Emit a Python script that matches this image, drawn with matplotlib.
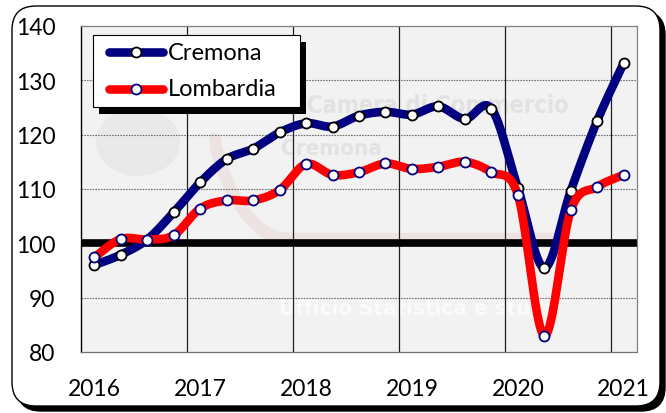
import numpy as np
import matplotlib
matplotlib.use("Agg")
import matplotlib.pyplot as plt
from matplotlib.patches import FancyBboxPatch, Rectangle, Ellipse
from matplotlib.lines import Line2D

# Quarterly index series, 2016 Q1 .. 2021 Q1
quarters = [f"{y} T{q}" for y in range(2016, 2021) for q in range(1, 5)] + ["2021 T1"]
year_labels = ["2016", "2017", "2018", "2019", "2020", "2021"]
cremona = [96.0, 97.9, 100.7, 105.7, 111.2, 115.5, 117.4, 120.4, 122.1, 121.5,
           123.5, 124.2, 123.7, 125.2, 122.9, 124.8, 110.2, 95.5, 109.7, 122.6, 133.2]
lombardia = [97.4, 100.8, 100.7, 101.5, 106.4, 107.9, 107.9, 109.8, 114.6, 112.6,
             113.1, 114.7, 113.7, 114.1, 115.0, 113.1, 108.9, 83.0, 106.1, 110.4, 112.6]
base_value = 100

FONT = ["Lato", "DejaVu Sans"]
plt.rcParams["font.family"] = FONT

W, H = 666, 414
fig = plt.figure(figsize=(W / 100, H / 100), dpi=100)
fig.patch.set_facecolor("white")


def px(x, y):
    """Pixel position (from top-left) to inches for dpi_scale_trans."""
    return x / 100, (H - y) / 100


# Rounded outer frame with a drop shadow
fx0, fy0, fx1, fy1 = 12, 7, 660, 407
r = 0.24
shadow = FancyBboxPatch(px(fx0 + 5, fy1 + 5), (fx1 - fx0) / 100, (fy1 - fy0) / 100,
                        boxstyle=f"round,pad=0,rounding_size={r}",
                        transform=fig.dpi_scale_trans, facecolor="black",
                        edgecolor="black", zorder=0)
frame = FancyBboxPatch(px(fx0, fy1), (fx1 - fx0) / 100, (fy1 - fy0) / 100,
                       boxstyle=f"round,pad=0,rounding_size={r}",
                       transform=fig.dpi_scale_trans, facecolor="white",
                       edgecolor="black", linewidth=1.0, zorder=0.5)
fig.add_artist(shadow)
fig.add_artist(frame)

ax = fig.add_axes([81 / W, 1 - 353 / H, (637 - 81) / W, (353 - 27) / H])
ax.set_facecolor("#F2F2F2")
ax.set_zorder(2)

x = np.arange(len(quarters))


def smooth(xs, ys, n=30):
    """Catmull-Rom style Bezier smoothing through every point."""
    P = np.column_stack([xs, ys]).astype(float)
    Pe = np.vstack([P[0], P, P[-1]])
    out = []
    for i in range(len(P) - 1):
        p0, p1, p2, p3 = Pe[i], Pe[i + 1], Pe[i + 2], Pe[i + 3]
        c1 = p1 + (p2 - p0) / 6
        c2 = p2 - (p3 - p1) / 6
        t = np.linspace(0, 1, n, endpoint=(i == len(P) - 2))[:, None]
        seg = ((1 - t) ** 3) * p1 + 3 * ((1 - t) ** 2) * t * c1 + 3 * (1 - t) * t ** 2 * c2 + t ** 3 * p2
        out.append(seg)
    out = np.vstack(out)
    return out[:, 0], out[:, 1]


# Faint logo watermark behind the data
wm_kw = dict(transform=fig.transFigure, family=["DejaVu Sans"], fontstretch="condensed",
             fontweight="bold", zorder=1)
ax.add_patch(Ellipse((138 / 100, (H - 143) / 100), 0.84, 0.68, transform=fig.dpi_scale_trans,
                     facecolor="#E9E9E9", edgecolor="none", zorder=0.1))
tt = np.linspace(0, 1, 60)
arc_x = 215 + 345 * tt ** 1.4
arc_y = 140 + 100 * np.sin(np.pi / 2 * np.clip(tt * 3, 0, 1))
ax.plot(arc_x / 100, (H - arc_y) / 100, color="#E8C8C8", lw=9, alpha=0.35,
        solid_capstyle="round", transform=fig.dpi_scale_trans, zorder=0.2)
ax.text(307 / W, 1 - 106 / H, "Camera di Commercio", ha="left", va="center",
        fontsize=17, color="#E2E2E2", **wm_kw)
ax.text(281 / W, 1 - 149 / H, "Cremona", ha="left", va="center",
        fontsize=16, color="#E2E2E2", **wm_kw)
ax.text(279 / W, 1 - 309 / H, "Ufficio Statistica e studi", ha="left", va="center",
        fontsize=16, color="#FAFAFA", **wm_kw)

# Reference level
ax.axhline(base_value, color="black", lw=5.5, zorder=2)

sx, sy = smooth(x, cremona)
ax.plot(sx, sy, color="#000080", lw=6.2, solid_capstyle="round", zorder=3)
ax.plot(x, cremona, ls="none", marker="o", ms=7.2, mfc="white", mec="black",
        mew=1.3, zorder=4)
sx, sy = smooth(x, lombardia)
ax.plot(sx, sy, color="#FF0000", lw=6.2, solid_capstyle="round", zorder=5)
ax.plot(x, lombardia, ls="none", marker="o", ms=7.2, mfc="white", mec="#000080",
        mew=1.3, zorder=6)

ax.set_xlim(-0.5, len(quarters) - 0.5)
ax.set_ylim(80, 140)
ax.set_yticks(np.arange(80, 141, 10))
ax.set_xticks(x[::4])
ax.set_xticklabels(year_labels)
for yv in [90, 110, 120, 130]:
    ax.axhline(yv, color="#707070", lw=0.8, ls=(0, (1.5, 1)), zorder=1.5)
for xv in np.arange(3.5, len(quarters) - 1, 4):
    ax.axvline(xv, color="#202020", lw=0.9, zorder=1.5)

ax.tick_params(axis="both", length=0, labelsize=16.5, colors="black")
ax.tick_params(axis="y", pad=18.5)
ax.tick_params(axis="x", pad=18.5)
for s in ["top", "right"]:
    ax.spines[s].set_color("#808080")
    ax.spines[s].set_linewidth(0.9)
ax.spines["bottom"].set_color("#707070")
ax.spines["bottom"].set_linestyle((0, (1.5, 1)))
ax.spines["bottom"].set_linewidth(0.9)
ax.spines["left"].set_color("black")
ax.spines["left"].set_linewidth(1.0)

# Legend box with shadow
lx0, ly0, lx1, ly1 = 93, 36, 300, 108
fig.add_artist(Rectangle(px(lx0 + 6, ly1 + 7), (lx1 - lx0) / 100, (ly1 - ly0) / 100,
                         transform=fig.dpi_scale_trans, facecolor="black",
                         edgecolor="none", zorder=10))
fig.add_artist(Rectangle(px(lx0, ly1), (lx1 - lx0) / 100, (ly1 - ly0) / 100,
                         transform=fig.dpi_scale_trans, facecolor="white",
                         edgecolor="black", lw=0.8, zorder=11))
entries = [("Cremona", "#000080", "black", 53), ("Lombardia", "#FF0000", "#000080", 90)]
for label, lc, mec, yy in entries:
    fig.add_artist(Line2D([109 / W, 163 / W], [1 - yy / H] * 2, color=lc, lw=6.2,
                          solid_capstyle="round", transform=fig.transFigure, zorder=12))
    fig.add_artist(Line2D([136 / W], [1 - yy / H], marker="o", ms=7.2, mfc="white",
                          mec=mec, mew=1.3, transform=fig.transFigure, zorder=13))
    fig.text(168 / W, 1 - yy / H, label, ha="left", va="center", fontsize=17,
             color="black", zorder=13)

fig.savefig("out.png", dpi=100)
